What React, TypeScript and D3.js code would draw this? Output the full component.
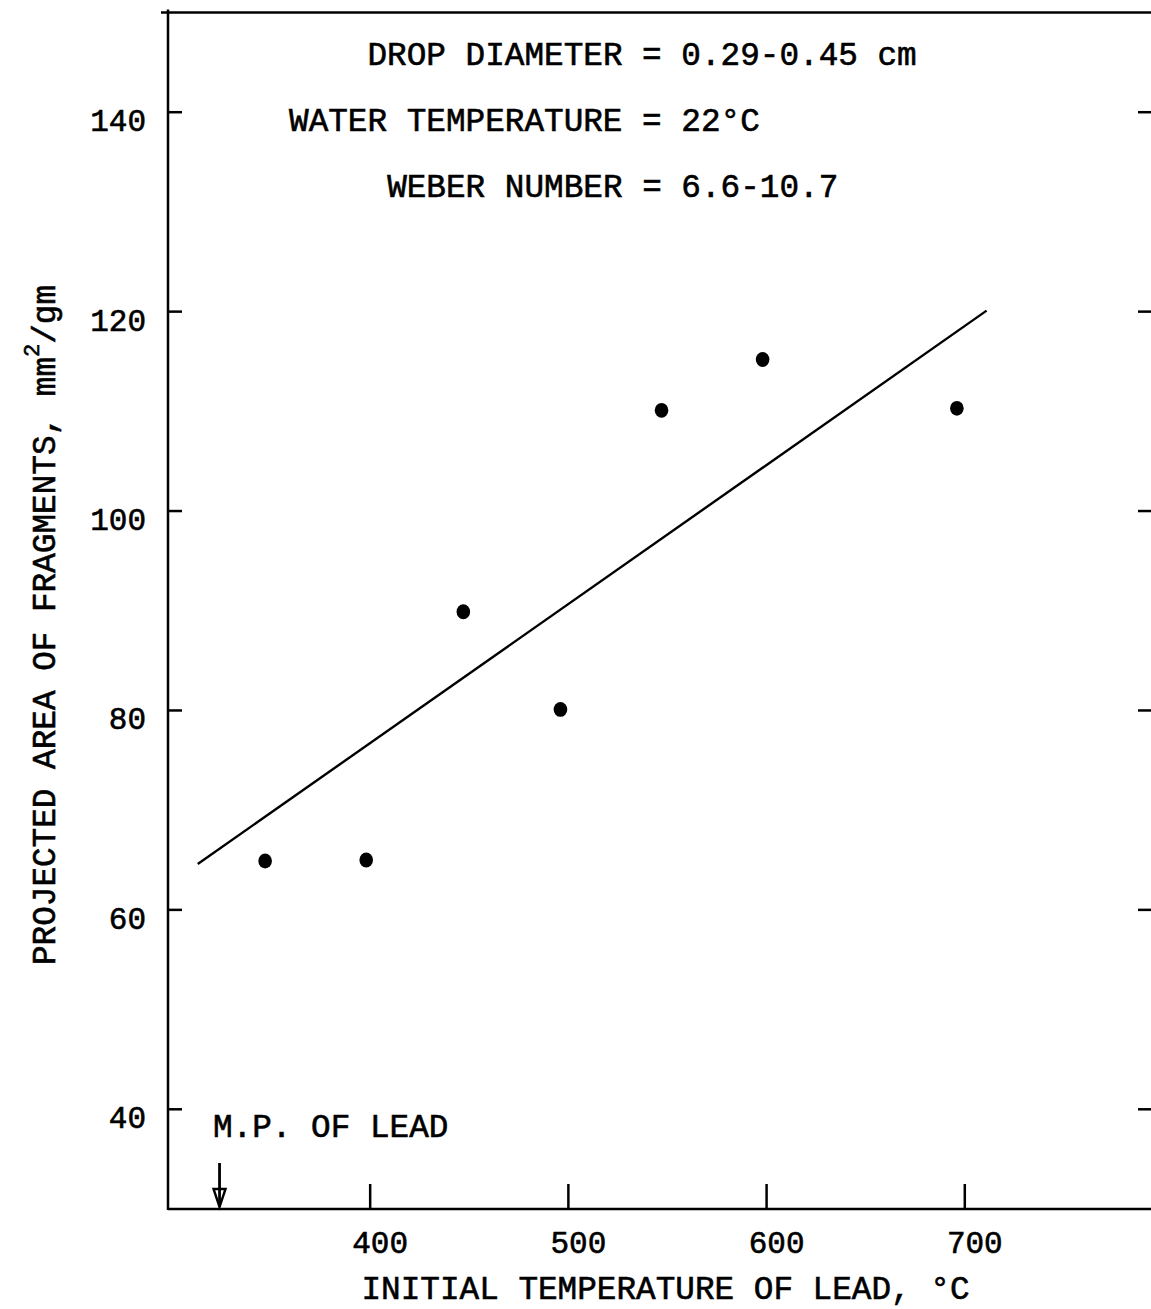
import React from "react";
import * as d3 from "d3";

const temperatures = [347, 398, 447, 496, 547, 598, 696];
const areas = [64.9, 65.0, 89.9, 80.1, 110.1, 115.2, 110.3];
const fitTemps = [313, 711];
const fitAreas = [64.6, 120.1];
const xTicks = [400, 500, 600, 700];
const yTicks = [40, 60, 80, 100, 120, 140];
const notes = [
  "DROP DIAMETER = 0.29-0.45 cm",
  "WATER TEMPERATURE = 22°C",
  "WEBER NUMBER = 6.6-10.7",
];
const meltingPoint = 324;
const meltingLabel = "M.P. OF LEAD";
const xTitle = "INITIAL TEMPERATURE OF LEAD, °C";
const yTitleMain = "PROJECTED AREA OF FRAGMENTS, mm";
const yTitleSup = "2";
const yTitleEnd = "/gm";

const W = 1151;
const H = 1309;
const FONT = "'Courier New', 'Liberation Mono', monospace";

export default function App() {
  const x = d3.scaleLinear().domain([298, 800]).range([168, 1163]);
  const y = d3.scaleLinear().domain([30, 150]).range([1209, 12.5]);
  const [x0, x1] = x.range();
  const [yb, yt] = y.range();

  const line = d3
    .line<number>()
    .x((_, i) => x(fitTemps[i]))
    .y((d) => y(d));

  const fs = 32.7;
  const adv = fs * 0.6;
  const eqCenter = 652;
  const noteY = [65, 131, 197];

  const ax = x(meltingPoint);
  const txt = { fill: "#000", stroke: "#000", strokeWidth: 0.6 };

  return (
    <svg
      width={W}
      height={H}
      style={{ position: "absolute", left: 0, top: 0, background: "#fff" }}
      fontFamily={FONT}
    >
      <rect x={0} y={0} width={W} height={H} fill="#fff" />
      {/* frame */}
      <line x1={x0 - 7} x2={x1} y1={yt} y2={yt} stroke="#000" strokeWidth={2.5} />
      <line x1={x0} x2={x0} y1={yt - 3} y2={yb + 1} stroke="#000" strokeWidth={2.5} />
      <line x1={x0} x2={x1} y1={yb} y2={yb} stroke="#000" strokeWidth={2.5} />
      <line x1={x1} x2={x1} y1={yt} y2={yb} stroke="#000" strokeWidth={2.5} />

      {/* y ticks left & right */}
      {yTicks.map((t) => (
        <g key={"y" + t}>
          <line x1={x0} x2={x0 + 14} y1={y(t)} y2={y(t)} stroke="#000" strokeWidth={2.5} />
          <line x1={x1 - 25} x2={x1} y1={y(t)} y2={y(t)} stroke="#000" strokeWidth={2.5} />
          <text x={146} y={y(t) + 19} textAnchor="end" fontSize={31} {...txt}>
            {t}
          </text>
        </g>
      ))}

      {/* x ticks */}
      {xTicks.map((t) => (
        <g key={"x" + t}>
          <line x1={x(t)} x2={x(t)} y1={yb} y2={yb - 25} stroke="#000" strokeWidth={2.5} />
          <text x={x(t) + 10} y={1253} textAnchor="middle" fontSize={31} {...txt}>
            {t}
          </text>
        </g>
      ))}

      {/* notes */}
      {notes.map((n, i) => {
        const idx = n.indexOf("=");
        return (
          <text
            key={n}
            x={eqCenter - (idx + 0.5) * adv}
            y={noteY[i]}
            fontSize={fs}
            {...txt}
            style={{ whiteSpace: "pre" }}
          >
            {n}
          </text>
        );
      })}

      {/* fit line */}
      <path d={line(fitAreas) || ""} fill="none" stroke="#000" strokeWidth={2.4} />

      {/* points */}
      {temperatures.map((t, i) => (
        <ellipse key={t} cx={x(t)} cy={y(areas[i])} rx={6.8} ry={7.4} fill="#000" />
      ))}

      {/* melting point marker */}
      <text x={213} y={1137} fontSize={fs} {...txt}>
        {meltingLabel}
      </text>
      <line x1={ax} x2={ax} y1={1163} y2={yb - 2} stroke="#000" strokeWidth={2.8} />
      <path
        d={`M${ax - 6},${yb - 20} L${ax + 6},${yb - 20} L${ax},${yb - 2} Z`}
        fill="none"
        stroke="#000"
        strokeWidth={2.4}
      />

      {/* axis titles */}
      <text x={(x0 + x1) / 2} y={1299} textAnchor="middle" fontSize={fs} {...txt}>
        {xTitle}
      </text>
      <text
        transform={`translate(55, 625) rotate(-90)`}
        textAnchor="middle"
        fontSize={fs}
        {...txt}
      >
        {yTitleMain}
        <tspan fontSize={22} dy={-16}>
          {yTitleSup}
        </tspan>
        <tspan dy={16}>{yTitleEnd}</tspan>
      </text>
    </svg>
  );
}
